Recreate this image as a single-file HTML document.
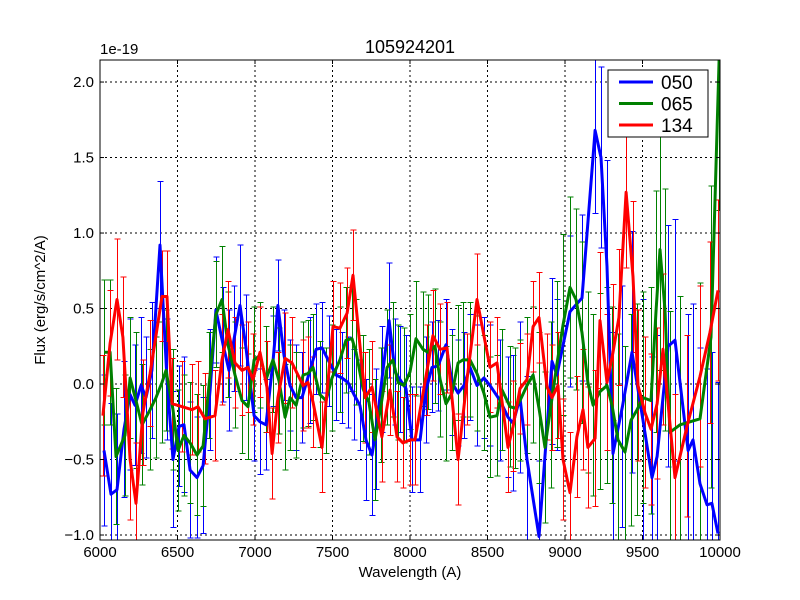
<!DOCTYPE html>
<html><head><meta charset="utf-8"><style>
html,body{margin:0;padding:0;background:#fff;width:800px;height:600px;overflow:hidden;}
svg{display:block;font-family:"Liberation Sans","DejaVu Sans",sans-serif;}
</style></head><body>
<svg id="chart" width="800" height="600" viewBox="0 0 800 600" overflow="hidden">
<defs><clipPath id="clip"><rect x="100" y="60" width="620" height="480"/></clipPath></defs>
<rect width="800" height="600" fill="#fff"/>
<g id="grid"></g><g id="bars" shape-rendering="crispEdges" clip-path="url(#clip)"></g><g id="lines" clip-path="url(#clip)"></g><g id="axes"></g>
</svg>
<script>
const xTicks=[6000,6500,7000,7500,8000,8500,9000,9500,10000];
const yTicks=[-1.0,-0.5,0.0,0.5,1.0,1.5,2.0];
const yTickLabels=["−1.0","−0.5","0.0","0.5","1.0","1.5","2.0"];
const seriesNames=["050","065","134"];
const seriesColors=["#0000ff","#008000","#ff0000"];
// [wavelength, flux(1e-19), error]
const s050=[[6026,-0.44,0.5],[6071,-0.73,0.6],[6110,-0.70,0.5],[6155,-0.30,0.45],[6194,-0.07,0.5],[6226,-0.14,0.4],[6265,-0.01,0.45],[6297,-0.09,0.4],[6335,0.09,0.45],[6387,0.92,0.42],[6432,0.03,0.4],[6471,-0.50,0.45],[6510,-0.28,0.4],[6542,-0.27,0.45],[6581,-0.57,0.45],[6626,-0.62,0.4],[6665,-0.54,0.45],[6710,-0.04,0.4],[6748,0.49,0.35],[6794,0.26,0.38],[6832,0.09,0.4],[6865,0.30,0.35],[6903,0.52,0.4],[6942,0.24,0.35],[6994,-0.21,0.3],[7032,-0.25,0.35],[7071,-0.27,0.3],[7116,0.15,0.3],[7148,0.52,0.3],[7187,0.19,0.3],[7226,-0.01,0.3],[7265,-0.09,0.35],[7303,-0.09,0.3],[7355,0.09,0.35],[7394,0.23,0.3],[7432,0.24,0.3],[7477,0.15,0.3],[7523,0.06,0.3],[7561,0.04,0.3],[7600,0.01,0.3],[7639,-0.07,0.3],[7677,-0.14,0.3],[7716,-0.37,0.4],[7755,-0.47,0.4],[7781,-0.30,0.4],[7819,0.03,0.35],[7865,0.42,0.38],[7903,0.08,0.35],[7935,0.03,0.35],[7974,-0.03,0.35],[8013,-0.37,0.35],[8065,-0.37,0.35],[8103,-0.04,0.35],[8142,0.11,0.3],[8181,0.12,0.3],[8232,0.26,0.3],[8271,0.01,0.35],[8310,-0.06,0.35],[8348,-0.01,0.35],[8387,0.11,0.35],[8432,-0.01,0.4],[8477,0.04,0.4],[8516,-0.01,0.4],[8581,-0.11,0.4],[8632,-0.22,0.4],[8665,-0.26,0.45],[8710,-0.09,0.5],[8755,-0.50,0.55],[8832,-1.01,0.5],[8916,0.15,0.55],[8948,0.06,0.5],[9032,0.48,0.5],[9110,0.57,0.55],[9194,1.68,0.55],[9232,1.50,0.6],[9271,0.78,0.7],[9310,-0.46,0.8],[9370,-0.15,0.8],[9432,0.21,0.8],[9503,-0.24,0.8],[9561,-0.62,0.8],[9594,-0.48,0.8],[9665,0.25,0.8],[9710,0.29,0.8],[9794,-0.44,0.9],[9826,-0.37,0.9],[9871,-0.66,0.9],[9916,-0.80,0.9],[9948,-0.79,1.0],[9987,-0.99,1.0]];
const s065=[[6026,0.21,0.48],[6065,0.21,0.48],[6103,-0.48,0.45],[6161,-0.34,0.4],[6194,0.04,0.4],[6232,-0.11,0.45],[6271,-0.27,0.4],[6323,-0.17,0.4],[6361,-0.09,0.4],[6400,0.01,0.4],[6426,0.09,0.4],[6471,-0.17,0.4],[6503,-0.44,0.4],[6542,-0.34,0.4],[6581,-0.39,0.4],[6626,-0.47,0.4],[6665,-0.41,0.4],[6703,-0.01,0.35],[6748,0.46,0.35],[6787,0.56,0.35],[6826,0.26,0.35],[6871,0.06,0.35],[6916,-0.11,0.35],[6955,-0.15,0.35],[6994,0.16,0.35],[7032,0.19,0.35],[7071,0.03,0.35],[7116,0.16,0.35],[7155,0.02,0.35],[7194,-0.22,0.35],[7226,-0.09,0.35],[7265,-0.14,0.35],[7310,0.06,0.35],[7342,0.07,0.35],[7374,0.11,0.35],[7419,-0.07,0.35],[7458,-0.11,0.35],[7497,0.04,0.35],[7548,0.16,0.35],[7587,0.29,0.35],[7626,0.30,0.35],[7652,0.21,0.35],[7697,-0.03,0.35],[7735,-0.12,0.35],[7774,-0.37,0.4],[7813,-0.14,0.38],[7852,0.11,0.38],[7890,0.16,0.38],[7923,0.01,0.38],[7961,-0.01,0.38],[8000,0.08,0.38],[8039,0.30,0.38],[8084,0.23,0.38],[8116,0.21,0.38],[8161,0.25,0.38],[8194,0.03,0.38],[8232,-0.13,0.38],[8271,-0.06,0.38],[8310,0.14,0.38],[8342,0.16,0.38],[8387,0.16,0.38],[8432,0.07,0.38],[8477,-0.06,0.38],[8516,-0.22,0.4],[8561,-0.21,0.4],[8594,-0.04,0.4],[8645,-0.15,0.4],[8677,-0.16,0.4],[8710,-0.11,0.4],[8755,-0.01,0.45],[8794,0.06,0.45],[8832,-0.16,0.5],[8871,-0.42,0.5],[8910,-0.14,0.55],[8948,0.13,0.55],[8987,0.39,0.6],[9032,0.64,0.6],[9071,0.56,0.6],[9110,0.34,0.6],[9148,0.01,0.6],[9181,-0.14,0.6],[9226,-0.05,0.65],[9271,-0.01,0.65],[9303,-0.14,0.65],[9342,-0.37,0.7],[9387,-0.45,0.7],[9426,-0.24,0.7],[9465,-0.17,0.7],[9503,-0.09,0.7],[9555,-0.11,0.75],[9587,0.48,0.8],[9613,0.89,0.8],[9645,0.49,0.8],[9677,-0.32,0.8],[9742,-0.27,0.85],[9871,-0.23,0.9],[9942,0.31,1.0],[9994,2.15,1.0]];
const s134=[[6019,-0.21,0.4],[6065,0.27,0.35],[6110,0.56,0.4],[6148,0.31,0.4],[6194,-0.50,0.4],[6232,-0.79,0.4],[6277,-0.19,0.35],[6323,0.07,0.35],[6400,0.58,0.3],[6432,0.58,0.3],[6465,-0.13,0.3],[6530,-0.15,0.3],[6594,-0.17,0.3],[6632,-0.15,0.3],[6677,-0.23,0.3],[6742,-0.21,0.3],[6787,0.16,0.3],[6826,0.36,0.32],[6871,0.14,0.3],[6916,0.09,0.3],[6955,0.11,0.3],[6987,0.03,0.3],[7032,0.21,0.3],[7077,-0.02,0.3],[7110,-0.46,0.3],[7148,-0.09,0.3],[7194,0.17,0.3],[7239,0.14,0.3],[7310,-0.01,0.3],[7342,0.01,0.3],[7374,-0.12,0.3],[7432,-0.42,0.3],[7503,0.38,0.3],[7548,0.37,0.3],[7594,0.47,0.3],[7632,0.72,0.3],[7710,-0.09,0.3],[7755,-0.02,0.3],[7819,-0.35,0.3],[7871,-0.04,0.3],[7916,-0.35,0.3],[7955,-0.39,0.3],[8000,-0.37,0.3],[8032,-0.37,0.3],[8110,0.09,0.3],[8148,0.32,0.3],[8194,0.23,0.3],[8239,0.24,0.3],[8310,-0.50,0.3],[8368,0.03,0.3],[8432,0.56,0.3],[8516,0.11,0.3],[8561,0.14,0.3],[8632,-0.42,0.3],[8665,-0.28,0.3],[8710,-0.03,0.3],[8755,0.03,0.3],[8794,0.38,0.3],[8832,0.44,0.3],[8884,-0.02,0.35],[8916,-0.09,0.35],[8955,-0.01,0.35],[8987,-0.50,0.4],[9032,-0.72,0.4],[9077,-0.35,0.4],[9116,-0.17,0.4],[9148,-0.42,0.4],[9194,-0.36,0.45],[9226,0.42,0.45],[9271,0.01,0.45],[9310,0.21,0.45],[9348,0.44,0.45],[9394,1.27,0.5],[9439,0.71,0.5],[9471,-0.01,0.5],[9516,-0.19,0.5],[9555,-0.30,0.5],[9594,-0.13,0.5],[9632,0.23,0.5],[9710,-0.62,0.55],[9787,-0.28,0.6],[9871,0.05,0.6],[9935,0.34,0.6],[9987,0.62,0.6]];
const allSeries=[s050,s065,s134];

const L=100,R=720,T=60,B=540,xMin=6000,xMax=10000,yMin=-1.033,yMax=2.146;
const X=v=>L+(v-xMin)/(xMax-xMin)*(R-L);
const Y=v=>T+(yMax-v)/(yMax-yMin)*(B-T);
const clampY=y=>Math.max(T,Math.min(B,y));
const NS="http://www.w3.org/2000/svg";
function mk(tag,attrs,parent){const e=document.createElementNS(NS,tag);for(const k in attrs)e.setAttribute(k,attrs[k]);parent.appendChild(e);return e;}
const gGrid=document.getElementById('grid'),gBars=document.getElementById('bars'),gLines=document.getElementById('lines'),gAxes=document.getElementById('axes');

xTicks.forEach((t,i)=>{
  const x=X(t);
  const g=mk('line',{x1:x,x2:x,y1:T,y2:B,stroke:'#000','stroke-dasharray':'2,3','stroke-width':1},gGrid);
  
  
  mk('line',{x1:x,x2:x,y1:B,y2:B-4,stroke:'#000'},gAxes);
  mk('line',{x1:x,x2:x,y1:T,y2:T+4,stroke:'#000'},gAxes);
  const tx=mk('text',{x:x,y:557,'font-size':15,'text-anchor':'middle'},gAxes);
  tx.textContent=String(t);
  
  
});
yTicks.forEach((t,i)=>{
  const y=Y(t);
  const g=mk('line',{x1:L,x2:R,y1:y,y2:y,stroke:'#000','stroke-dasharray':'2,3','stroke-width':1},gGrid);
  
  
  mk('line',{x1:L,x2:L+4,y1:y,y2:y,stroke:'#000'},gAxes);
  mk('line',{x1:R,x2:R-4,y1:y,y2:y,stroke:'#000'},gAxes);
  const tx=mk('text',{x:94,y:y+5,'font-size':15,'text-anchor':'end'},gAxes);
  tx.textContent=yTickLabels[i];
  
  
});

allSeries.forEach((s,si)=>{
  const c=seriesColors[si];
  s.forEach(p=>{
    const x=Math.round(X(p[0]))+0.5;
    const r1=Y(p[1]-p[2]),r2=Y(p[1]+p[2]);
    const y1=clampY(r1),y2=clampY(r2);
    const b=mk('g',{stroke:c,'stroke-width':1},gBars);
    
    
    mk('line',{x1:x,x2:x,y1:y1,y2:y2},b);
    if(r1<=B) mk('line',{x1:x-3,x2:x+3,y1:y1,y2:y1},b);
    if(r2>=T) mk('line',{x1:x-3,x2:x+3,y1:y2,y2:y2},b);
  });
});
allSeries.forEach((s,si)=>{
  const pl=mk('polyline',{points:s.map(p=>X(p[0]).toFixed(1)+','+clampY(Y(p[1])).toFixed(1)).join(' '),fill:'none',stroke:seriesColors[si],'stroke-width':3,'stroke-linejoin':'round'},gLines);
  
  
});

const frame=mk('rect',{x:L,y:T,width:R-L,height:B-T,fill:'none',stroke:'#000','stroke-width':1},gAxes);



const t1=mk('text',{x:410,y:53,'font-size':18,'text-anchor':'middle'},gAxes);t1.textContent='105924201';


const t2=mk('text',{x:100,y:54,'font-size':15},gAxes);t2.textContent='1e-19';


const t3=mk('text',{x:410,y:577,'font-size':15,'text-anchor':'middle'},gAxes);t3.textContent='Wavelength (A)';


const t4=mk('text',{x:45,y:300,'font-size':15,'text-anchor':'middle',transform:'rotate(-90 45 300)'},gAxes);t4.textContent='Flux (erg/s/cm^2/A)';



const lg=mk('g',{},gAxes);


mk('rect',{x:608,y:70,width:100,height:67,fill:'#fff',stroke:'#000','stroke-width':1},lg);
seriesNames.forEach((n,i)=>{
  const y=82+i*21.5;
  const e=mk('g',{},lg);
  
  
  mk('line',{x1:619,x2:653,y1:y,y2:y,stroke:seriesColors[i],'stroke-width':3},e);
  const t=mk('text',{x:661,y:y+7,'font-size':19},e);t.textContent=n;
});
</script>
</body></html>
